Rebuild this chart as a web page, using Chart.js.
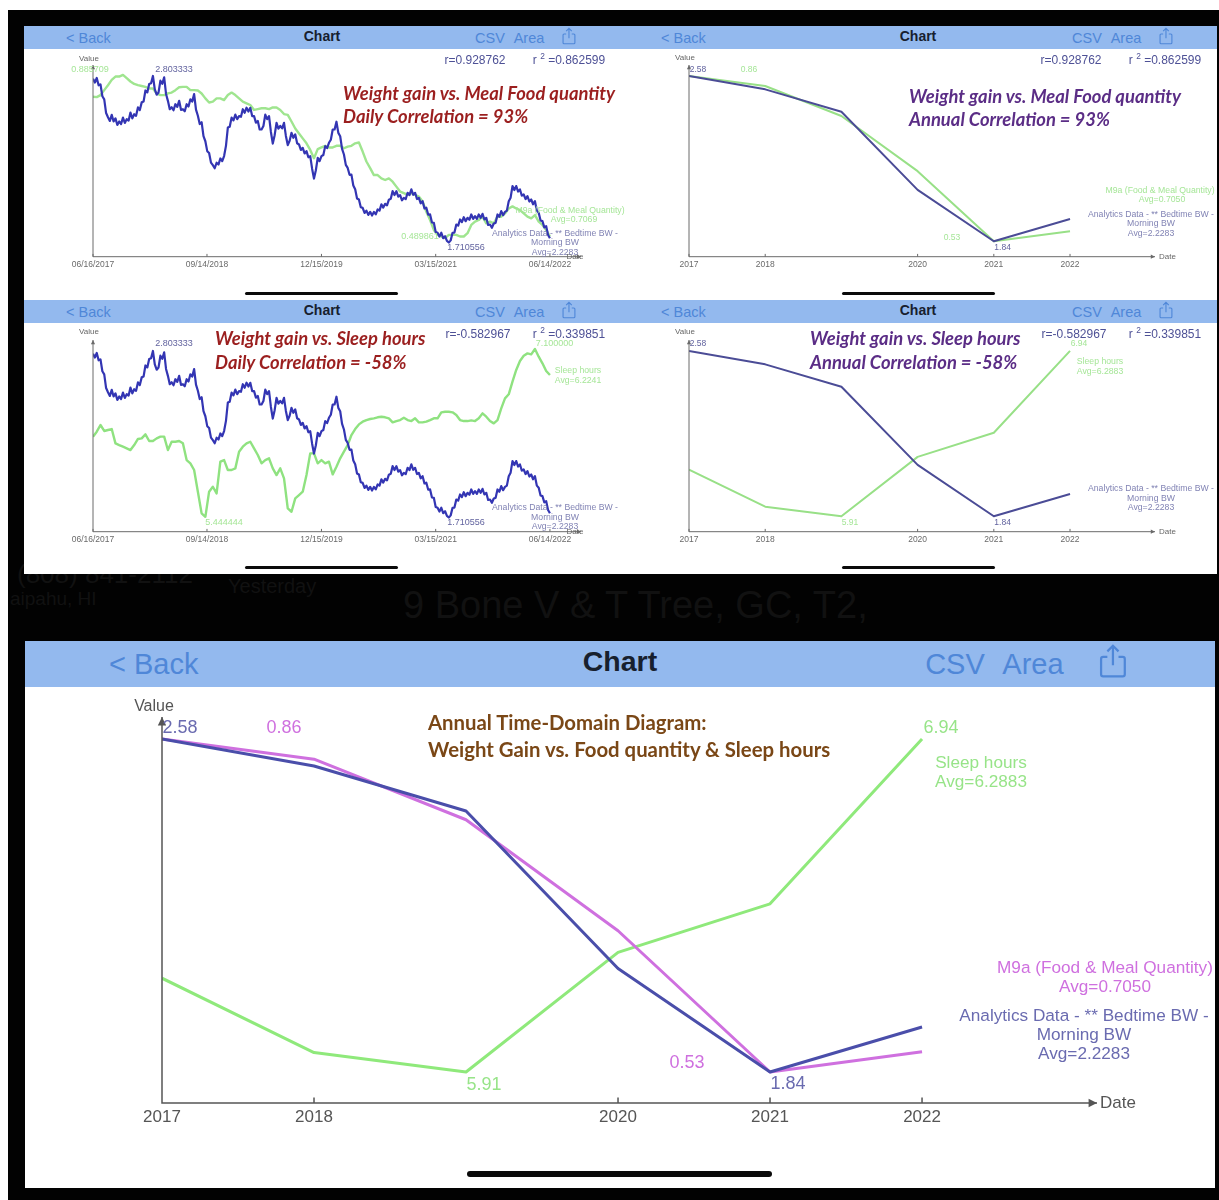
<!DOCTYPE html>
<html>
<head>
<meta charset="utf-8">
<title>Weight gain charts</title>
<script src="https://cdn.jsdelivr.net/npm/chart.js@4"></script>
<style>
    html, body { margin: 0; padding: 0; background: #fff; }
    body { width: 1219px; height: 1200px; position: relative; overflow: hidden; font-family: 'Liberation Sans', Arial, sans-serif; }
    #dark { position: absolute; left: 8px; top: 10px; width: 1211px; height: 1190px; background: #020202; }
    #small { position: absolute; left: 0; top: 0; width: 1219px; height: 640px; filter: blur(0.45px); }
    #large { position: absolute; left: 0; top: 0; width: 1219px; height: 1200px; }
    .box { position: absolute; background: #fff; }
    .nav { position: absolute; background: #93b9ee; }
    .bar { position: absolute; background: #0a0a0a; border-radius: 3px; }
    .t { position: absolute; white-space: nowrap; line-height: 1; }
    canvas { position: absolute; }
    sup { font-size: 70%; line-height: 0; }
</style>
</head>
<body>
<div id="dark"></div>
<div id="large"></div>
<div id="small"></div>
<script>
// Annual values, one per year
const yearPositions = [0, 1, 2, 3, 4, 5];
const yearTickPositions = [0, 1, 3, 4, 5];
const yearTickLabels = ['2017', '2018', '2020', '2021', '2022'];
const annualWeight = [2.58, 2.52, 2.42, 2.07, 1.84, 1.94];
const annualFood = [0.86, 0.84, 0.78, 0.67, 0.53, 0.55];
const annualSleep = [6.20, 5.97, 5.91, 6.28, 6.43, 6.94];

// Daily values: weight about every 7.5 days, the others every 15
const dailyTickDays = [0, 455, 912, 1368, 1824];
const dailyTickLabels = ['06/16/2017', '09/14/2018', '12/15/2019', '03/15/2021', '06/14/2022'];
const dailyWeight = [
    2.785, 2.760, 2.790, 2.742, 2.748, 2.670, 2.650, 2.560, 2.532, 2.508,
    2.548, 2.505, 2.525, 2.482, 2.505, 2.488, 2.530, 2.495, 2.520, 2.510,
    2.563, 2.525, 2.552, 2.542, 2.597, 2.580, 2.630, 2.635, 2.708, 2.695,
    2.750, 2.755, 2.803, 2.715, 2.680, 2.695, 2.772, 2.752, 2.794, 2.685,
    2.640, 2.585, 2.598, 2.578, 2.618, 2.600, 2.640, 2.581, 2.585, 2.572,
    2.618, 2.603, 2.650, 2.635, 2.684, 2.582, 2.542, 2.488, 2.500, 2.408,
    2.375, 2.310, 2.298, 2.235, 2.218, 2.198, 2.234, 2.222, 2.262, 2.245,
    2.278, 2.345, 2.465, 2.470, 2.530, 2.512, 2.550, 2.520, 2.540, 2.535,
    2.585, 2.562, 2.595, 2.570, 2.594, 2.540, 2.540, 2.497, 2.508, 2.452,
    2.452, 2.475, 2.550, 2.520, 2.540, 2.436, 2.360, 2.415, 2.496, 2.458,
    2.475, 2.460, 2.496, 2.410, 2.350, 2.378, 2.430, 2.398, 2.420, 2.362,
    2.354, 2.318, 2.332, 2.295, 2.310, 2.270, 2.277, 2.195, 2.130, 2.185,
    2.266, 2.245, 2.277, 2.285, 2.343, 2.330, 2.365, 2.385, 2.452, 2.452,
    2.503, 2.430, 2.408, 2.325, 2.288, 2.220, 2.200, 2.155, 2.156, 2.085,
    2.060, 2.000, 1.993, 1.942, 1.938, 1.905, 1.920, 1.892, 1.912, 1.888,
    1.911, 1.896, 1.928, 1.920, 1.961, 1.940, 1.965, 1.955, 1.992, 1.998,
    2.048, 2.022, 2.048, 2.012, 2.022, 1.988, 2.004, 1.996, 2.037, 2.022,
    2.060, 2.024, 2.037, 1.996, 2.004, 1.968, 1.982, 1.935, 1.939, 1.893,
    1.895, 1.842, 1.840, 1.780, 1.775, 1.750, 1.775, 1.740, 1.752, 1.722,
    1.711, 1.725, 1.775, 1.776, 1.829, 1.822, 1.862, 1.845, 1.877, 1.851,
    1.873, 1.860, 1.895, 1.866, 1.884, 1.866, 1.895, 1.873, 1.899, 1.862,
    1.873, 1.826, 1.829, 1.808, 1.836, 1.840, 1.895, 1.880, 1.917, 1.890,
    1.912, 1.920, 1.982, 2.005, 2.081, 2.055, 2.081, 2.045, 2.059, 2.018,
    2.026, 1.996, 2.015, 1.980, 1.993, 1.962, 1.982, 1.920, 1.906, 1.855,
    1.851, 1.810, 1.818, 1.760, 1.739
];
const dailyFood = [
    0.833, 0.832, 0.837, 0.849, 0.861, 0.874, 0.882, 0.882, 0.886, 0.878,
    0.870, 0.864, 0.861, 0.859, 0.857, 0.853, 0.853, 0.841, 0.837, 0.837,
    0.841, 0.843, 0.849, 0.856, 0.857, 0.857, 0.849, 0.849, 0.848, 0.841,
    0.829, 0.819, 0.821, 0.829, 0.829, 0.825, 0.837, 0.843, 0.837, 0.829,
    0.821, 0.817, 0.813, 0.801, 0.803, 0.805, 0.805, 0.803, 0.807, 0.807,
    0.801, 0.791, 0.789, 0.773, 0.756, 0.744, 0.732, 0.720, 0.704, 0.684,
    0.706, 0.710, 0.714, 0.710, 0.710, 0.714, 0.714, 0.708, 0.712, 0.714,
    0.720, 0.722, 0.700, 0.676, 0.660, 0.643, 0.643, 0.635, 0.631, 0.635,
    0.627, 0.615, 0.603, 0.599, 0.595, 0.599, 0.595, 0.591, 0.579, 0.554,
    0.534, 0.510, 0.498, 0.494, 0.490, 0.498, 0.498, 0.498, 0.494, 0.494,
    0.502, 0.522, 0.530, 0.534, 0.542, 0.526, 0.530, 0.526, 0.542, 0.542,
    0.550, 0.562, 0.567, 0.562, 0.558, 0.550, 0.542, 0.538, 0.546, 0.530,
    0.522, 0.510, 0.494
];
const dailySleep = [
    6.235, 6.284, 6.350, 6.291, 6.301, 6.310, 6.169, 6.152, 6.136, 6.120,
    6.103, 6.152, 6.212, 6.218, 6.258, 6.192, 6.192, 6.218, 6.235, 6.235,
    6.103, 6.185, 6.185, 6.192, 6.169, 6.004, 5.972, 5.906, 5.692, 5.478,
    5.444, 5.692, 5.741, 5.675, 5.988, 6.004, 5.906, 5.906, 5.922, 6.087,
    6.136, 6.169, 6.185, 6.120, 6.054, 5.972, 6.004, 6.021, 5.922, 5.856,
    5.922, 5.823, 5.527, 5.494, 5.626, 5.659, 5.692, 5.856, 6.070, 6.070,
    5.972, 6.004, 5.972, 5.988, 5.863, 5.939, 6.021, 6.087, 6.152, 6.251,
    6.310, 6.356, 6.383, 6.399, 6.409, 6.416, 6.426, 6.432, 6.426, 6.416,
    6.376, 6.389, 6.399, 6.422, 6.399, 6.389, 6.416, 6.376, 6.376, 6.383,
    6.399, 6.416, 6.416, 6.475, 6.481, 6.481, 6.475, 6.449, 6.399, 6.389,
    6.389, 6.396, 6.389, 6.416, 6.465, 6.432, 6.389, 6.366, 6.399, 6.514,
    6.613, 6.653, 6.778, 6.893, 6.982, 7.034, 7.057, 7.047, 7.100, 7.024,
    6.959, 6.883, 6.843
];
const weightDays = dailyWeight.map((v, i) => i * 1824 / (dailyWeight.length - 1));
const dailyDays = dailyFood.map((v, i) => i * 1824 / (dailyFood.length - 1));

function points(xs, ys) {
    return xs.map((x, i) => ({ x: x, y: ys[i] }));
}

const largeEl = document.getElementById('large');
const smallEl = document.getElementById('small');

function text(parent, x, y, str, o) {
    o = o || {};
    const el = document.createElement('div');
    el.className = 't';
    el.innerHTML = str;
    el.style.left = x + 'px';
    el.style.top = y + 'px';
    el.style.fontSize = (o.size || 9) + 'px';
    el.style.color = o.color || '#666';
    el.style.transform = o.left ? 'translate(0,-50%)' : 'translate(-50%,-50%)';
    if (o.bold) el.style.fontWeight = 'bold';
    if (o.italic) el.style.fontStyle = 'italic';
    if (o.font) el.style.fontFamily = o.font;
    parent.appendChild(el);
}

function rect(parent, cls, x, y, w, h) {
    const el = document.createElement('div');
    el.className = cls;
    el.style.cssText = 'left:' + x + 'px;top:' + y + 'px;width:' + w + 'px;height:' + h + 'px';
    parent.appendChild(el);
}

function shareIcon(parent, cx, cy, size) {
    const ns = 'http://www.w3.org/2000/svg';
    const svg = document.createElementNS(ns, 'svg');
    svg.setAttribute('viewBox', '0 0 20 26');
    svg.setAttribute('width', size * 20 / 26);
    svg.setAttribute('height', size);
    svg.style.cssText = 'position:absolute;left:' + (cx - size * 10 / 26) + 'px;top:' + (cy - size / 2) + 'px';
    svg.innerHTML = '<path d="M6 10H3a1.5 1.5 0 0 0-1.5 1.5v11A1.5 1.5 0 0 0 3 24h14a1.5 1.5 0 0 0 1.5-1.5v-11A1.5 1.5 0 0 0 17 10h-3M10 16V2M6 6l4-4 4 4" fill="none" stroke="#4f87d8" stroke-width="1.6"/>';
    parent.appendChild(svg);
}

function navBar(parent, n) {
    rect(parent, 'nav', n.x, n.y, n.w, n.h);
    const c = '#4f87d8';
    text(parent, n.backX, n.textY, '&lt; Back', { size: n.size, color: c, left: true });
    text(parent, n.chartX, n.textY - n.size * 0.12, 'Chart', { size: n.size - 0.5, color: '#17202e', bold: true });
    text(parent, n.csvX, n.textY, 'CSV', { size: n.size, color: c });
    text(parent, n.areaX, n.textY, 'Area', { size: n.size, color: c });
    shareIcon(parent, n.shareX, n.textY - n.size * 0.1, n.size * 1.25);
}

// draws both axis lines with their arrows and the small upward tick marks
const axesPlugin = {
    id: 'axesPlugin',
    afterDraw(chart, args, opts) {
        const { ctx, chartArea: a, scales } = chart;
        const s = opts.arrow;
        ctx.save();
        ctx.strokeStyle = opts.color;
        ctx.fillStyle = opts.color;
        ctx.lineWidth = opts.width;
        ctx.beginPath();
        ctx.moveTo(a.left, a.top);
        ctx.lineTo(a.left, a.bottom);
        ctx.lineTo(a.right, a.bottom);
        scales.x.ticks.forEach(t => {
            const px = scales.x.getPixelForValue(t.value);
            ctx.moveTo(px, a.bottom);
            ctx.lineTo(px, a.bottom - s * 0.8);
        });
        ctx.stroke();
        ctx.beginPath();
        ctx.moveTo(a.left, a.top);
        ctx.lineTo(a.left - s * 0.6, a.top + s * 1.2);
        ctx.lineTo(a.left + s * 0.6, a.top + s * 1.2);
        ctx.closePath();
        ctx.moveTo(a.right, a.bottom);
        ctx.lineTo(a.right - s * 1.2, a.bottom - s * 0.6);
        ctx.lineTo(a.right - s * 1.2, a.bottom + s * 0.6);
        ctx.closePath();
        ctx.fill();
        ctx.restore();
    }
};

function makeChart(parent, c) {
    const canvas = document.createElement('canvas');
    canvas.width = c.w;
    canvas.height = c.h;
    canvas.style.left = c.x + 'px';
    canvas.style.top = c.y + 'px';
    canvas.style.width = c.w + 'px';
    canvas.style.height = c.h + 'px';
    parent.appendChild(canvas);
    const axisH = c.axisH;
    new Chart(canvas.getContext('2d'), {
        type: 'line',
        data: { datasets: c.datasets },
        plugins: [axesPlugin],
        options: {
            responsive: false,
            animation: false,
            layout: {
                padding: {
                    left: c.area.left - c.x,
                    right: c.x + c.w - c.area.right,
                    top: c.area.top - c.y,
                    bottom: c.y + c.h - c.area.bottom - axisH
                }
            },
            elements: { point: { radius: 0 }, line: { tension: 0 } },
            plugins: {
                legend: { display: false },
                tooltip: { enabled: false },
                axesPlugin: { color: c.axisColor, width: c.axisWidth, arrow: c.arrow }
            },
            scales: {
                x: {
                    type: 'linear',
                    min: 0,
                    max: c.xMax,
                    border: { display: false },
                    grid: { display: false, drawTicks: false },
                    afterBuildTicks(scale) { scale.ticks = c.ticks.map(v => ({ value: v })); },
                    afterFit(scale) { scale.height = axisH; },
                    ticks: {
                        autoSkip: false,
                        maxRotation: 0,
                        padding: c.tickPad,
                        color: c.tickColor,
                        font: { size: c.tickSize, family: "'Liberation Sans', Arial, sans-serif" },
                        callback: value => c.labels[c.ticks.indexOf(value)]
                    }
                },
                yWeight: { display: false, min: c.limits.weight[0], max: c.limits.weight[1] },
                yFood: { display: false, min: c.limits.food[0], max: c.limits.food[1] },
                ySleep: { display: false, min: c.limits.sleep[0], max: c.limits.sleep[1] }
            }
        }
    });
}

function line(label, xs, ys, axis, color, width) {
    return { label: label, data: points(xs, ys), yAxisID: axis, borderColor: color, borderWidth: width, borderJoinStyle: 'round' };
}

const annualLimits = { weight: [1.771, 2.629], food: [0.4993, 0.8818], sleep: [5.814, 7.008] };
const dailyLimits = { weight: [1.618, 2.875], food: [0.445, 0.910], sleep: [5.297, 7.189] };
const greyBlue = '#62639f';
const lightGreen = '#a6e698';
const legendBlue = '#8183b4';
const red = '#9b1f1f';
const purple = '#5b2d86';

function smallChart(c) {
    makeChart(smallEl, Object.assign({
        w: 598, h: 236, axisH: 24, axisColor: '#6a6a6a', axisWidth: 1, arrow: 3.5,
        tickPad: 3, tickColor: '#6a6a6a', tickSize: 8.5
    }, c));
}

// white sheet behind the four small screenshots
rect(smallEl, 'box', 24, 26, 1193, 548);

[
    { x: 24, y: 26, backX: 66, chartX: 322, csvX: 490, areaX: 529, shareX: 569, textY: 38 },
    { x: 24, y: 300, backX: 66, chartX: 322, csvX: 490, areaX: 529, shareX: 569, textY: 312 },
    { x: 622, y: 26, backX: 661, chartX: 918, csvX: 1087, areaX: 1126, shareX: 1166, textY: 38 },
    { x: 622, y: 300, backX: 661, chartX: 918, csvX: 1087, areaX: 1126, shareX: 1166, textY: 312 }
].forEach(n => {
    navBar(smallEl, Object.assign({ w: n.x < 600 ? 598 : 595, h: 23, size: 14.5 }, n));
});

[[245, 292], [842, 292], [245, 566], [842, 566]].forEach(b => {
    rect(smallEl, 'bar', b[0], b[1], 153, 3);
});

// top left, daily food
smallChart({
    x: 24, y: 49, area: { left: 93, right: 581, top: 65, bottom: 256.7 }, xMax: 1948,
    ticks: dailyTickDays, labels: dailyTickLabels, limits: dailyLimits,
    datasets: [
        line('Weight', weightDays, dailyWeight, 'yWeight', '#3335b3', 2.2),
        line('Food', dailyDays, dailyFood, 'yFood', '#9fe58f', 2.4)
    ]
});
// bottom left, daily sleep
smallChart({
    x: 24, y: 323, area: { left: 93, right: 581, top: 340, bottom: 531.7 }, xMax: 1948,
    ticks: dailyTickDays, labels: dailyTickLabels, limits: dailyLimits,
    datasets: [
        line('Weight', weightDays, dailyWeight, 'yWeight', '#3335b3', 2.2),
        line('Sleep', dailyDays, dailySleep, 'ySleep', '#8fe280', 2.4)
    ]
});
// top right, annual food
smallChart({
    x: 622, y: 49, w: 595, area: { left: 689, right: 1155, top: 65, bottom: 256.7 }, xMax: 6.115,
    ticks: yearTickPositions, labels: yearTickLabels, limits: annualLimits,
    datasets: [
        line('Weight', yearPositions, annualWeight, 'yWeight', '#4b4c96', 2),
        line('Food', yearPositions, annualFood, 'yFood', '#98e087', 2)
    ]
});
// bottom right, annual sleep
smallChart({
    x: 622, y: 323, w: 595, area: { left: 689, right: 1155, top: 340, bottom: 531.7 }, xMax: 6.115,
    ticks: yearTickPositions, labels: yearTickLabels, limits: annualLimits,
    datasets: [
        line('Weight', yearPositions, annualWeight, 'yWeight', '#4b4c96', 2),
        line('Sleep', yearPositions, annualSleep, 'ySleep', '#98e087', 2)
    ]
});

const titleFont = "Lato, 'Open Sans', sans-serif";
function title(x, y, str, color) {
    text(smallEl, x, y, str, { size: 18.4, color: color, bold: true, italic: true, left: true, font: titleFont });
}
function stats(rx, ry, r, r2, y) {
    text(smallEl, rx, y, r, { size: 12, color: '#4e5196' });
    text(smallEl, ry, y, 'r <sup>2</sup> =' + r2, { size: 12, color: '#4e5196' });
}
function analytics(cx, y, gap) {
    text(smallEl, cx, y, 'Analytics Data - ** Bedtime BW -', { size: 8.7, color: legendBlue });
    text(smallEl, cx, y + gap, 'Morning BW', { size: 8.7, color: legendBlue });
    text(smallEl, cx, y + gap * 2, 'Avg=2.2283', { size: 8.7, color: legendBlue });
}

// top left text
text(smallEl, 89, 59, 'Value', { size: 8 });
text(smallEl, 90, 69, '0.885709', { color: lightGreen });
text(smallEl, 174, 69, '2.803333', { color: greyBlue });
stats(475, 569, 'r=0.928762', '0.862599', 60);
title(343, 93, 'Weight gain vs. Meal Food quantity', red);
title(343, 116, 'Daily Correlation = 93%', red);
text(smallEl, 570, 210, 'M9a (Food &amp; Meal Quantity)', { size: 8.7, color: lightGreen });
text(smallEl, 574, 219, 'Avg=0.7069', { size: 8.7, color: lightGreen });
analytics(555, 232.5, 9.7);
text(smallEl, 420, 236, '0.489861', { color: lightGreen });
text(smallEl, 466, 247, '1.710556', { color: greyBlue });
text(smallEl, 575, 257, 'Date', { size: 8 });

// bottom left text
text(smallEl, 89, 332, 'Value', { size: 8 });
text(smallEl, 174, 343, '2.803333', { color: greyBlue });
stats(478, 569, 'r=-0.582967', '0.339851', 334);
title(215, 338, 'Weight gain vs. Sleep hours', red);
title(215, 361.5, 'Daily Correlation = -58%', red);
text(smallEl, 554.6, 343, '7.100000', { color: lightGreen });
text(smallEl, 578, 370, 'Sleep hours', { size: 8.7, color: lightGreen });
text(smallEl, 578, 380, 'Avg=6.2241', { size: 8.7, color: lightGreen });
text(smallEl, 224, 521.7, '5.444444', { color: lightGreen });
text(smallEl, 466, 521.7, '1.710556', { color: greyBlue });
analytics(555, 507, 9.7);
text(smallEl, 575, 531.7, 'Date', { size: 8 });

// top right text
text(smallEl, 685, 58, 'Value', { size: 8 });
text(smallEl, 698, 69, '2.58', { size: 8.5, color: greyBlue });
text(smallEl, 749, 69, '0.86', { size: 8.5, color: lightGreen });
stats(1071, 1165, 'r=0.928762', '0.862599', 60);
title(909, 96, 'Weight gain vs. Meal Food quantity', purple);
title(909, 119, 'Annual Correlation = 93%', purple);
text(smallEl, 1160, 190, 'M9a (Food &amp; Meal Quantity)', { size: 8.7, color: lightGreen });
text(smallEl, 1162, 199, 'Avg=0.7050', { size: 8.7, color: lightGreen });
analytics(1151, 214, 9.3);
text(smallEl, 952, 236.7, '0.53', { size: 8.5, color: lightGreen });
text(smallEl, 1002.6, 247, '1.84', { size: 8.5, color: greyBlue });
text(smallEl, 1159, 256.7, 'Date', { size: 8, left: true });

// bottom right text
text(smallEl, 685, 332, 'Value', { size: 8 });
text(smallEl, 698, 343, '2.58', { size: 8.5, color: greyBlue });
stats(1074, 1165, 'r=-0.582967', '0.339851', 334);
title(810, 338, 'Weight gain vs. Sleep hours', purple);
title(810, 361.5, 'Annual Correlation = -58%', purple);
text(smallEl, 1079, 343, '6.94', { size: 8.5, color: lightGreen });
text(smallEl, 1100, 361, 'Sleep hours', { size: 8.7, color: lightGreen });
text(smallEl, 1100, 371, 'Avg=6.2883', { size: 8.7, color: lightGreen });
text(smallEl, 850, 521.7, '5.91', { size: 8.5, color: lightGreen });
text(smallEl, 1002.6, 521.7, '1.84', { size: 8.5, color: greyBlue });
analytics(1151, 488, 9.5);
text(smallEl, 1159, 531.7, 'Date', { size: 8, left: true });

// faint screen behind the screenshots
const ghost = '#111111';
text(largeEl, 17, 574, '(808) 841-2112', { size: 26, color: ghost, left: true });
text(largeEl, 228, 586, 'Yesterday', { size: 20, color: ghost, left: true });
text(largeEl, 10, 598, 'aipahu, HI', { size: 19, color: ghost, left: true });
text(largeEl, 403, 605, '9 Bone V & T Tree, GC, T2,', { size: 38, color: ghost, left: true });

// large annual panel
rect(largeEl, 'box', 25, 641, 1190, 547);
navBar(largeEl, { x: 25, y: 641, w: 1190, h: 46, backX: 109, chartX: 620, csvX: 955, areaX: 1033, shareX: 1113, textY: 664, size: 29 });
rect(largeEl, 'bar', 467, 1171, 305, 6);

makeChart(largeEl, {
    x: 25, y: 687, w: 1190, h: 470, axisH: 30,
    area: { left: 162, right: 1097, top: 717, bottom: 1103 }, xMax: 6.151,
    ticks: yearTickPositions, labels: yearTickLabels, limits: annualLimits,
    axisColor: '#555', axisWidth: 1.5, arrow: 7,
    tickPad: 4.5, tickColor: '#555', tickSize: 17,
    datasets: [
        line('Weight', yearPositions, annualWeight, 'yWeight', '#4a4eaa', 3),
        line('Food', yearPositions, annualFood, 'yFood', '#cf70df', 3),
        line('Sleep', yearPositions, annualSleep, 'ySleep', '#8fe97b', 3)
    ]
});

const bigPurple = '#6a6bb0';
const bigPink = '#cf70df';
const bigGreen = '#97e488';
const bigTitle = { size: 20.35, color: '#7a4716', bold: true, left: true, font: titleFont };
text(largeEl, 154, 706, 'Value', { size: 16, color: '#555' });
text(largeEl, 180, 727, '2.58', { size: 18, color: bigPurple });
text(largeEl, 284, 727, '0.86', { size: 18, color: bigPink });
text(largeEl, 428, 722, 'Annual Time-Domain Diagram:', bigTitle);
text(largeEl, 428, 749, 'Weight Gain vs. Food quantity &amp; Sleep hours', bigTitle);
text(largeEl, 941, 727, '6.94', { size: 18, color: bigGreen });
text(largeEl, 981, 763, 'Sleep hours', { size: 17.2, color: bigGreen });
text(largeEl, 981, 782, 'Avg=6.2883', { size: 17.2, color: bigGreen });
text(largeEl, 1105, 968, 'M9a (Food &amp; Meal Quantity)', { size: 17.2, color: bigPink });
text(largeEl, 1105, 987, 'Avg=0.7050', { size: 17.2, color: bigPink });
text(largeEl, 1084, 1016, 'Analytics Data - ** Bedtime BW -', { size: 17.2, color: bigPurple });
text(largeEl, 1084, 1035, 'Morning BW', { size: 17.2, color: bigPurple });
text(largeEl, 1084, 1054, 'Avg=2.2283', { size: 17.2, color: bigPurple });
text(largeEl, 687, 1062, '0.53', { size: 18, color: bigPink });
text(largeEl, 484, 1084, '5.91', { size: 18, color: bigGreen });
text(largeEl, 788, 1083, '1.84', { size: 18, color: bigPurple });
text(largeEl, 1100, 1102, 'Date', { size: 17, color: '#555', left: true });
</script>
</body>
</html>
